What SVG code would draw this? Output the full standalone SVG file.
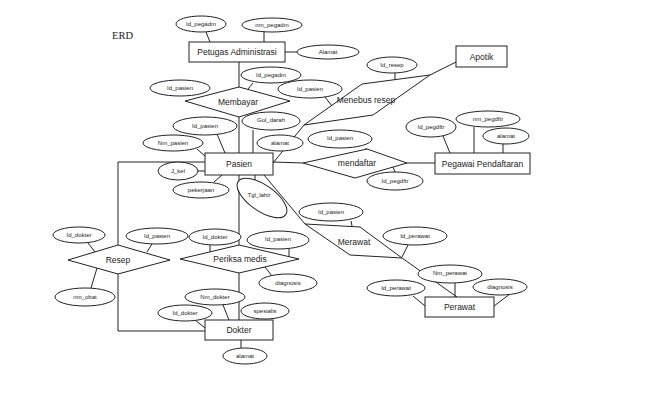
<svg xmlns="http://www.w3.org/2000/svg" width="650" height="400" viewBox="0 0 650 400">
<style>
.s{fill:#fff;stroke:#222;stroke-width:1}
.c{fill:none;stroke:#222;stroke-width:1}
.t{font-family:"Liberation Sans",Arial,sans-serif;font-size:8.5px;fill:#222;text-anchor:middle;dominant-baseline:central}
.a{font-family:"Liberation Sans",Arial,sans-serif;font-size:6px;fill:#222;text-anchor:middle;dominant-baseline:central}
.h{font-family:"Liberation Serif","Times New Roman",serif;font-size:10.5px;fill:#222}
</style>
<rect width="650" height="400" fill="#fff"/>
<text class="h" x="112" y="39">ERD</text>
<g id="connectors" class="c">
<line x1="206" y1="32" x2="210" y2="42"/>
<line x1="264" y1="32" x2="264" y2="42"/>
<line x1="285" y1="52" x2="297" y2="52"/>
<line x1="239" y1="62" x2="239" y2="87"/>
<line x1="239" y1="117" x2="239" y2="153"/>
<line x1="253" y1="83" x2="248" y2="89"/>
<line x1="253" y1="130" x2="253" y2="153"/>
<line x1="217" y1="134" x2="225" y2="153"/>
<line x1="197" y1="149" x2="205" y2="156"/>
<line x1="198" y1="171" x2="205" y2="171"/>
<line x1="214" y1="182" x2="222" y2="175"/>
<line x1="255" y1="175" x2="255" y2="180"/>
<line x1="273" y1="163" x2="304" y2="125"/>
<line x1="273" y1="162" x2="303" y2="163"/>
<line x1="407" y1="163" x2="435" y2="163"/>
<line x1="366" y1="148" x2="367" y2="151"/>
<line x1="393" y1="167" x2="395" y2="172"/>
<line x1="443" y1="136" x2="450" y2="153"/>
<line x1="474" y1="127" x2="474" y2="153"/>
<line x1="503" y1="144" x2="503" y2="153"/>
<line x1="430" y1="75" x2="456" y2="62"/>
<line x1="395" y1="73" x2="395" y2="80"/>
<line x1="325" y1="97" x2="332" y2="106"/>
<line x1="264" y1="175" x2="305" y2="224"/>
<line x1="402" y1="258" x2="457" y2="297"/>
<line x1="351" y1="221" x2="352" y2="226"/>
<line x1="408" y1="245" x2="402" y2="257"/>
<line x1="455" y1="283" x2="455" y2="297"/>
<line x1="413" y1="296" x2="425" y2="306"/>
<line x1="510" y1="294" x2="494" y2="306"/>
<polyline points="205,162 118,162 118,245"/>
<polyline points="118,274 118,331 205,331"/>
<line x1="239" y1="175" x2="239" y2="245"/>
<line x1="239" y1="273" x2="239" y2="320"/>
<line x1="210" y1="245" x2="210" y2="252"/>
<line x1="289" y1="249" x2="289" y2="257"/>
<line x1="265" y1="267" x2="272" y2="276"/>
<line x1="88" y1="243" x2="95" y2="252"/>
<line x1="152" y1="244" x2="147" y2="252"/>
<line x1="97" y1="268" x2="91" y2="288"/>
<line x1="223" y1="305" x2="229" y2="320"/>
<line x1="195" y1="320" x2="205" y2="328"/>
<line x1="241" y1="340" x2="241" y2="348"/>
</g>
<g id="petugas"><rect class="s" x="189" y="42" width="96" height="20"/><text class="t" x="237" y="52">Petugas Administrasi</text></g>
<g id="apotik"><rect class="s" x="456" y="46" width="51" height="21"/><text class="t" x="481.5" y="56.5">Apotik</text></g>
<g id="pasien"><rect class="s" x="205" y="153" width="68" height="22"/><text class="t" x="239" y="164">Pasien</text></g>
<g id="pegawai"><rect class="s" x="435" y="153" width="95" height="21"/><text class="t" x="482.5" y="163.5">Pegawai Pendaftaran</text></g>
<g id="dokter"><rect class="s" x="205" y="320" width="68" height="20"/><text class="t" x="239" y="330">Dokter</text></g>
<g id="perawat"><rect class="s" x="425" y="297" width="69" height="20"/><text class="t" x="459.5" y="307">Perawat</text></g>
<g id="membayar"><polygon class="s" points="239,87 290,101 239,117 185,101"/><text class="t" x="238" y="102">Membayar</text></g>
<g id="menebus"><polygon class="c" points="304,125 362,84 430,75 373,115"/><text class="t" x="366" y="100">Menebus resep</text></g>
<g id="mendaftar"><polygon class="s" points="303,163 367,149 407,163 355,178"/><text class="t" x="357" y="163">mendaftar</text></g>
<g id="resep"><polygon class="s" points="118,245 170,260 118,274 68,260"/><text class="t" x="118" y="260">Resep</text></g>
<g id="periksa"><polygon class="s" points="239,245 299,259 239,273 180,259"/><text class="t" x="240" y="259">Periksa medis</text></g>
<g id="merawat"><polygon class="c" points="305,224 360,227 402,258 350,255"/><text class="t" x="354" y="242">Merawat</text></g>
<g id="attr1"><ellipse class="s" cx="201" cy="24" rx="25" ry="8"/><text class="a" x="201" y="24">Id_pegadm</text></g>
<g id="attr2"><ellipse class="s" cx="272" cy="25" rx="30" ry="7"/><text class="a" x="272" y="25">nm_pegadm</text></g>
<g id="attr3"><ellipse class="s" cx="328" cy="52" rx="31" ry="7"/><text class="a" x="328" y="52">Alamat</text></g>
<g id="attr4"><ellipse class="s" cx="392" cy="65" rx="25" ry="8"/><text class="a" x="392" y="65">Id_resep</text></g>
<g id="attr5"><ellipse class="s" cx="271" cy="75" rx="30" ry="8"/><text class="a" x="271" y="75">Id_pegadm</text></g>
<g id="attr6"><ellipse class="s" cx="180" cy="88" rx="30" ry="8"/><text class="a" x="180" y="88">Id_pasien</text></g>
<g id="attr7"><ellipse class="s" cx="310" cy="89" rx="32" ry="9"/><text class="a" x="310" y="89">Id_pasien</text></g>
<g id="attr8"><ellipse class="s" cx="271" cy="121" rx="29" ry="9"/><text class="a" x="271" y="120">Gol_darah</text></g>
<g id="attr9"><ellipse class="s" cx="205" cy="126" rx="32" ry="9"/><text class="a" x="205" y="126">Id_pasien</text></g>
<g id="attr10"><ellipse class="s" cx="173" cy="143" rx="30" ry="8"/><text class="a" x="173" y="143">Nm_pasien</text></g>
<g id="attr11"><ellipse class="s" cx="280" cy="143" rx="23" ry="8"/><text class="a" x="280" y="143">alamat</text></g>
<g id="attr12"><ellipse class="s" cx="178" cy="171" rx="20" ry="9"/><text class="a" x="178" y="171">J_kel</text></g>
<g id="attr13"><ellipse class="s" cx="201" cy="190" rx="28" ry="8"/><text class="a" x="201" y="190">pekerjaan</text></g>
<g id="attr14"><ellipse class="s" cx="262" cy="198" rx="29" ry="13" transform="rotate(35 262 198)"/><text class="a" x="259" y="195">Tgl_lahir</text></g>
<g id="attr15"><ellipse class="s" cx="431" cy="127" rx="25" ry="10"/><text class="a" x="431" y="127">Id_pegdftr</text></g>
<g id="attr16"><ellipse class="s" cx="488" cy="119" rx="32" ry="8"/><text class="a" x="488" y="119">nm_pegdftr</text></g>
<g id="attr17"><ellipse class="s" cx="506" cy="136" rx="23" ry="8"/><text class="a" x="506" y="136">alamat</text></g>
<g id="attr18"><ellipse class="s" cx="340" cy="139" rx="32" ry="9"/><text class="a" x="340" y="138">Id_pasien</text></g>
<g id="attr19"><ellipse class="s" cx="395" cy="181" rx="28" ry="9"/><text class="a" x="395" y="181">Id_pegdftr</text></g>
<g id="attr20"><ellipse class="s" cx="79" cy="235" rx="26" ry="8"/><text class="a" x="79" y="235">Id_dokter</text></g>
<g id="attr21"><ellipse class="s" cx="157" cy="236" rx="31" ry="8"/><text class="a" x="157" y="236">Id_pasien</text></g>
<g id="attr22"><ellipse class="s" cx="85" cy="297" rx="30" ry="9"/><text class="a" x="85" y="297">nm_obat</text></g>
<g id="attr23"><ellipse class="s" cx="215" cy="237" rx="26" ry="8"/><text class="a" x="215" y="237">Id_dokter</text></g>
<g id="attr24"><ellipse class="s" cx="278" cy="240" rx="31" ry="9"/><text class="a" x="278" y="239">Id_pasien</text></g>
<g id="attr25"><ellipse class="s" cx="288" cy="283" rx="29" ry="9"/><text class="a" x="288" y="283">diagnosis</text></g>
<g id="attr26"><ellipse class="s" cx="215" cy="297" rx="30" ry="8"/><text class="a" x="215" y="297">Nm_dokter</text></g>
<g id="attr27"><ellipse class="s" cx="185" cy="313" rx="27" ry="8"/><text class="a" x="185" y="313">Id_dokter</text></g>
<g id="attr28"><ellipse class="s" cx="265" cy="311" rx="24" ry="8"/><text class="a" x="265" y="311">spesialis</text></g>
<g id="attr29"><ellipse class="s" cx="245" cy="356" rx="22" ry="8"/><text class="a" x="245" y="356">alamat</text></g>
<g id="attr30"><ellipse class="s" cx="331" cy="212" rx="32" ry="9"/><text class="a" x="331" y="212">Id_pasien</text></g>
<g id="attr31"><ellipse class="s" cx="415" cy="236" rx="32" ry="9"/><text class="a" x="415" y="236">Id_perawat</text></g>
<g id="attr32"><ellipse class="s" cx="450" cy="274" rx="32" ry="9"/><text class="a" x="450" y="273">Nm_perawat</text></g>
<g id="attr33"><ellipse class="s" cx="396" cy="288" rx="29" ry="8"/><text class="a" x="396" y="288">Id_perawat</text></g>
<g id="attr34"><ellipse class="s" cx="500" cy="287" rx="27" ry="8"/><text class="a" x="500" y="287">diagnosis</text></g>
</svg>
